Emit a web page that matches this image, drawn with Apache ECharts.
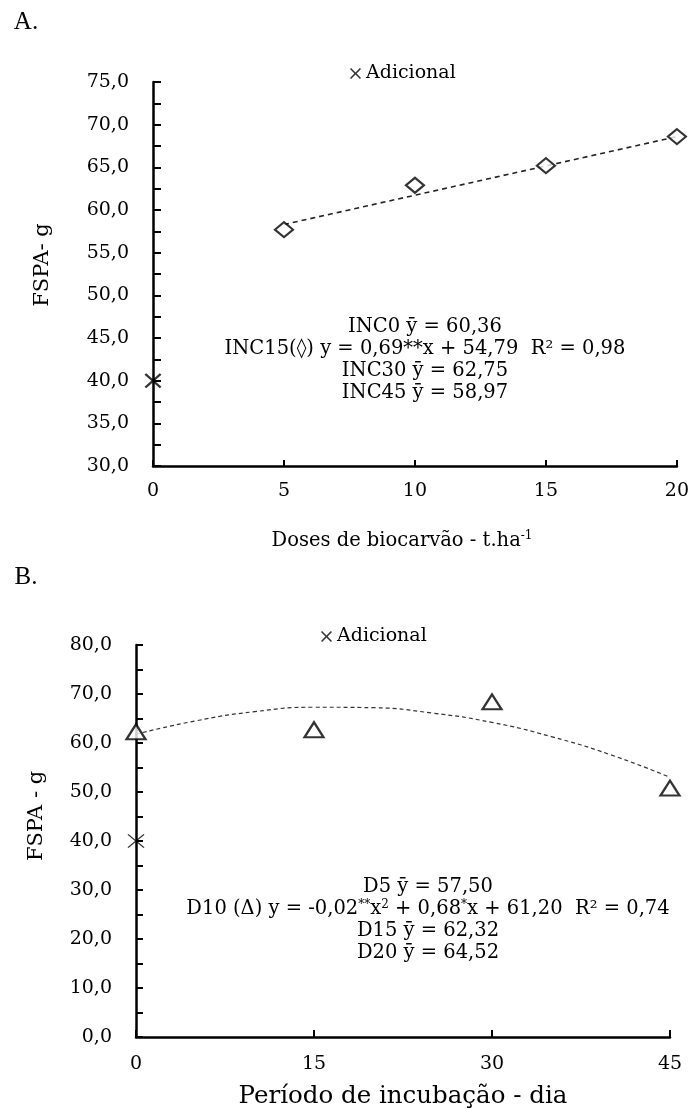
<!DOCTYPE html>
<html>
<head>
<meta charset="utf-8">
<script src="https://cdn.jsdelivr.net/npm/echarts@6/dist/echarts.min.js"></script>
<style>
html,body{margin:0;padding:0;background:#fff;}
#chart{width:692px;height:1109px;}
</style>
</head>
<body>
<div id="chart"></div>
<script>
// ---------- Data: panel A (doses de biocarvão) ----------
const dosesA = [5, 10, 15, 20];
const fspaA = [57.7, 62.9, 65.2, 68.6];            // INC15 (◊)
const trendDosesA = [5, 20];
const trendFspaA = [58.3, 68.6];                   // dashed linear fit
const adicionalA = [[0, 40.0]];
const yTicksA = { min: 30, max: 75, step: 5 };
const xTicksA = { min: 0, max: 20, step: 5 };
const eqA = [
  'INC0 ȳ = 60,36',
  'INC15(◊) y = 0,69**x + 54,79  R² = 0,98',
  'INC30 ȳ = 62,75',
  'INC45 ȳ = 58,97'
];

// ---------- Data: panel B (período de incubação) ----------
const diasB = [0, 15, 30, 45];
const fspaB = [62.3, 62.7, 68.4, 50.8];            // D10 (Δ)
const curveDiasB = [0, 5, 10, 15, 20, 25, 30, 35, 40, 45];
const curveFspaB = [61.8, 64.5, 66.4, 67.3, 67.2, 66.1, 64.2, 61.3, 57.6, 53.0];
const adicionalB = [[0, 40.0]];
const yTicksB = { min: 0, max: 80, step: 10 };
const xTicksB = { min: 0, max: 45, step: 15 };
const eqB = [
  'D5 ȳ = 57,50',
  '{n|D10 (Δ) y = -0,02}{s|**}{n|x}{s|2}{n| + 0,68}{s|*}{n|x + 61,20  R² = 0,74}',
  'D15 ȳ = 62,32',
  'D20 ȳ = 64,52'
];

const SERIF = 'DejaVu Serif';
const crossPath = 'path://M0,1 L1,0 L5,4 L9,0 L10,1 L6,5 L10,9 L9,10 L5,6 L1,10 L0,9 L4,5 Z';
const crossThin = 'path://M0,0.6 L0.6,0 L5,4.4 L9.4,0 L10,0.6 L5.6,5 L10,9.4 L9.4,10 L5,5.6 L0.6,10 L0,9.4 L4.4,5 Z';
const EQ = 19.5;
const TICK = 19;

const fmt = v => v.toFixed(1).replace('.', ',');

function yAxis(gi, t, tickLen) {
  return {
    type: 'value', gridIndex: gi, min: t.min, max: t.max, interval: t.step,
    axisLine: { show: true, lineStyle: { color: '#000', width: 2.5 } },
    axisTick: { show: true, inside: true, length: tickLen, lineStyle: { color: '#000', width: 2 } },
    minorTick: { show: true, splitNumber: 2, length: tickLen, lineStyle: { color: '#000', width: 2 } },
    splitLine: { show: false },
    axisLabel: { formatter: fmt, margin: 24, color: '#000', fontFamily: SERIF, fontSize: TICK }
  };
}
function xAxis(gi, t, tickLen, margin) {
  return {
    type: 'value', gridIndex: gi, min: t.min, max: t.max, interval: t.step,
    axisLine: { show: true, onZero: false, lineStyle: { color: '#000', width: 2.5 } },
    axisTick: { show: true, inside: true, length: tickLen, lineStyle: { color: '#000', width: 2 } },
    splitLine: { show: false },
    axisLabel: { margin: margin, color: '#000', fontFamily: SERIF, fontSize: TICK }
  };
}
function mkText(x, y, text, size, extra, family) {
  return Object.assign({
    type: 'text', x: x, y: y,
    style: { text: text, textAlign: 'center', textVerticalAlign: 'middle',
             fontFamily: family || SERIF, fontSize: size, fill: '#000' }
  }, extra || {});
}
function richText(x, y, text, size, supSize, supPad) {
  return { type: 'text', x: x, y: y,
    style: { text: text, textAlign: 'center', textVerticalAlign: 'middle',
      rich: { n: { fontFamily: SERIF, fontSize: size, fill: '#000' },
              s: { fontFamily: SERIF, fontSize: supSize, fill: '#000', verticalAlign: 'top', padding: [0, 0, supPad, 0] } } } };
}

const legendStyle = { fontFamily: SERIF, fontSize: 19, color: '#000' };

const chart = echarts.init(document.getElementById('chart'));
chart.setOption({
  backgroundColor: '#fff',
  animation: false,
  grid: [
    { left: 153, top: 82, width: 526, height: 384 },
    { left: 136, top: 645, width: 534, height: 392 }
  ],
  xAxis: [ xAxis(0, xTicksA, 6, 16), xAxis(1, xTicksB, 7, 18) ],
  yAxis: [ yAxis(0, yTicksA, 8), yAxis(1, yTicksB, 7) ],
  legend: [
    { data: [{ name: 'Adicional', icon: crossPath }], left: 345, top: 59, itemWidth: 11, itemHeight: 11,
      itemGap: 4, selectedMode: false, textStyle: legendStyle },
    { data: [{ name: 'Adicional', icon: crossPath }], left: 316, top: 622, itemWidth: 11, itemHeight: 11,
      itemGap: 4, selectedMode: false, textStyle: legendStyle }
  ],
  series: [
    { type: 'line', xAxisIndex: 0, yAxisIndex: 0, name: 'trendA', showSymbol: false, symbol: 'none',
      data: trendDosesA.map((d, i) => [d, trendFspaA[i]]),
      lineStyle: { color: '#222', width: 1.6, type: [5, 4] }, z: 2 },
    { type: 'scatter', xAxisIndex: 0, yAxisIndex: 0, name: 'INC15',
      data: dosesA.map((d, i) => [d, fspaA[i]]),
      symbol: 'diamond', symbolSize: [18, 15],
      itemStyle: { color: '#fff', borderColor: '#000', borderWidth: 2.2 }, z: 3 },
    { type: 'scatter', xAxisIndex: 0, yAxisIndex: 0, name: 'Adicional',
      data: adicionalA, symbol: crossPath, symbolSize: [17, 15],
      itemStyle: { color: '#000' }, z: 4 },

    { type: 'line', xAxisIndex: 1, yAxisIndex: 1, name: 'curveB', showSymbol: false, symbol: 'none',
      smooth: true, data: curveDiasB.map((d, i) => [d, curveFspaB[i]]),
      lineStyle: { color: '#333', width: 1.2, type: [4, 3] }, z: 2 },
    { type: 'scatter', xAxisIndex: 1, yAxisIndex: 1, name: 'D10',
      data: diasB.map((d, i) => [d, fspaB[i]]),
      symbol: 'triangle', symbolSize: [19, 15],
      itemStyle: { color: '#fff', borderColor: '#000', borderWidth: 2.2 }, z: 3 },
    { type: 'scatter', xAxisIndex: 1, yAxisIndex: 1, name: 'Adicional',
      data: adicionalB, symbol: crossThin, symbolSize: [17, 14],
      itemStyle: { color: '#000' }, z: 4 }
  ],
  graphic: [
    mkText(26, 22, 'A.', 25, null, 'Liberation Serif'),
    mkText(26, 577, 'B.', 25, null, 'Liberation Serif'),
    // y-axis names
    mkText(43, 265, 'FSPA- g', 21, { rotation: Math.PI / 2 }),
    mkText(37, 816, 'FSPA - g', 21, { rotation: Math.PI / 2 }),
    // x-axis names
    richText(402, 541, '{n|Doses de biocarvão - t.ha}{s|-1}', 19.5, 12, 10),
    mkText(403, 1097, 'Período de incubação - dia', 24.5),
    // equations A
    mkText(425, 327, eqA[0], EQ),
    mkText(425, 349, eqA[1], EQ),
    mkText(425, 371, eqA[2], EQ),
    mkText(425, 393, eqA[3], EQ),
    // equations B
    mkText(428, 887, eqB[0], EQ),
    richText(428, 909, eqB[1], EQ, 12, 9),
    mkText(428, 931, eqB[2], EQ),
    mkText(428, 953, eqB[3], EQ)
  ]
});
</script>
</body>
</html>
